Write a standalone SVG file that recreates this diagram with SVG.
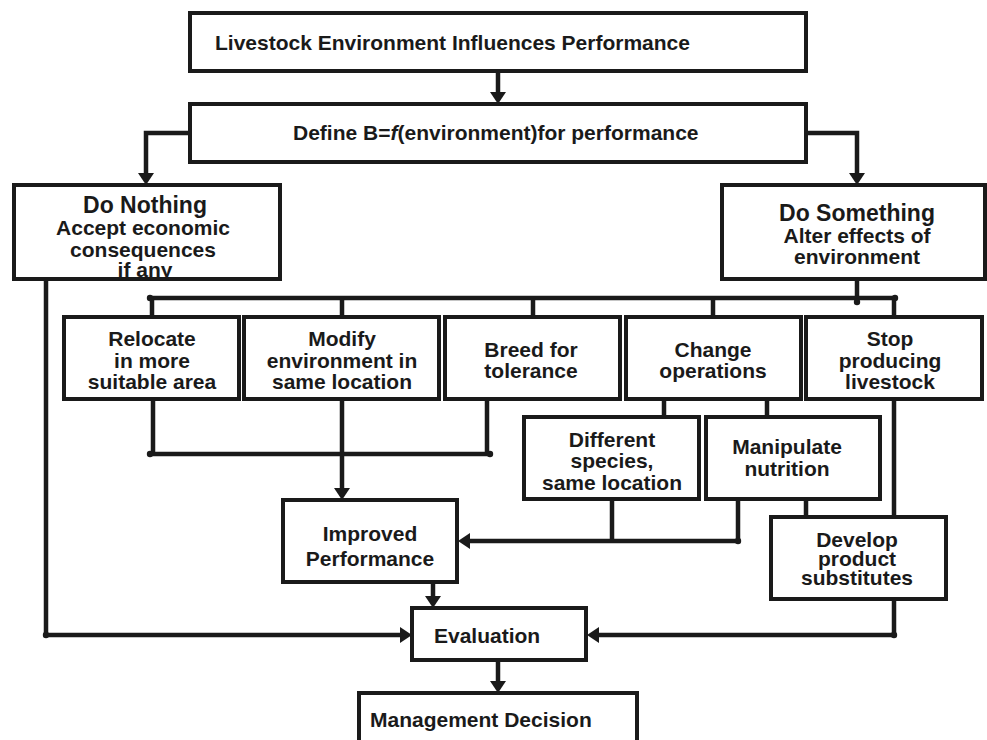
<svg xmlns="http://www.w3.org/2000/svg" width="987" height="740" viewBox="0 0 987 740">
<defs>
<style>
.box{fill:#fff;stroke:#1a1a1a;stroke-width:4}
.ln{fill:none;stroke:#1a1a1a;stroke-width:4.5}
.t{font-family:"Liberation Sans",Arial,sans-serif;font-weight:bold;font-size:21px;fill:#1a1a1a}
.c{text-anchor:middle}
.h{font-size:23px}
.dot{fill:#1a1a1a}
</style>
<marker id="ah" markerUnits="userSpaceOnUse" markerWidth="13" markerHeight="17" refX="2" refY="8" orient="auto">
<path d="M0,0 L12,8 L0,16 z" fill="#1a1a1a"/>
</marker>
</defs>
<rect width="987" height="740" fill="#fff"/>
<g id="connectors">
<path class="ln" d="M498,71 V94" marker-end="url(#ah)"/>
<path class="ln" d="M190,133 H146 V175" marker-end="url(#ah)"/>
<path class="ln" d="M806,133 H857 V175" marker-end="url(#ah)"/>
<path class="ln" d="M857,279 V302"/>
<path class="ln" d="M150,298 H895"/>
<path class="ln" d="M152,298 V317 M342,298 V317 M533,298 V317 M713,298 V317 M894,298 V317"/>
<path class="ln" d="M153,399 V454 M487,399 V454 M150,454 H490"/>
<path class="ln" d="M342,399 V490" marker-end="url(#ah)"/>
<path class="ln" d="M664,399 V417 M767,399 V417"/>
<path class="ln" d="M894,399 V517 M806,499 V517"/>
<path class="ln" d="M612,499 V541"/>
<path class="ln" d="M738,499 V541 H468" marker-end="url(#ah)"/>
<path class="ln" d="M894,599 V635 H597" marker-end="url(#ah)"/>
<path class="ln" d="M46,279 V635 H402" marker-end="url(#ah)"/>
<path class="ln" d="M433,582 V598" marker-end="url(#ah)"/>
<path class="ln" d="M498,660 V683" marker-end="url(#ah)"/>
<circle class="dot" cx="150" cy="298" r="3.2"/>
<circle class="dot" cx="895" cy="298" r="3.2"/>
<circle class="dot" cx="857" cy="302" r="3.2"/>
<circle class="dot" cx="150" cy="454" r="3.2"/>
<circle class="dot" cx="490" cy="454" r="3.2"/>
<circle class="dot" cx="738" cy="541" r="3.2"/>
<circle class="dot" cx="894" cy="635" r="3.2"/>
<circle class="dot" cx="46" cy="635" r="3.2"/>
</g>
<g id="n-title">
<rect class="box" x="190" y="13" width="616" height="58"/>
<text class="t" x="215" y="50">Livestock Environment Influences Performance</text>
</g>
<g id="n-define">
<rect class="box" x="190" y="104" width="616" height="58"/>
<text class="t" x="293" y="140">Define B=<tspan font-style="italic">f</tspan>(environment)for performance</text>
</g>
<g id="n-nothing">
<rect class="box" x="14" y="185" width="266" height="94"/>
<text class="t c h" x="145" y="213">Do Nothing</text>
<text class="t c" x="143" y="235">Accept economic</text>
<text class="t c" x="143" y="257">consequences</text>
<text class="t c" x="145" y="277">if any</text>
</g>
<g id="n-something">
<rect class="box" x="722" y="185" width="263" height="94"/>
<text class="t c h" x="857" y="221">Do Something</text>
<text class="t c" x="857" y="243">Alter effects of</text>
<text class="t c" x="857" y="264">environment</text>
</g>
<g id="n-relocate">
<rect class="box" x="64" y="317" width="175" height="82"/>
<text class="t c" x="152" y="346">Relocate</text>
<text class="t c" x="152" y="368">in more</text>
<text class="t c" x="152" y="389">suitable area</text>
</g>
<g id="n-modify">
<rect class="box" x="244" y="317" width="195" height="82"/>
<text class="t c" x="342" y="346">Modify</text>
<text class="t c" x="342" y="368">environment in</text>
<text class="t c" x="342" y="389">same location</text>
</g>
<g id="n-breed">
<rect class="box" x="445" y="317" width="175" height="82"/>
<text class="t c" x="531" y="357">Breed for</text>
<text class="t c" x="531" y="378">tolerance</text>
</g>
<g id="n-change">
<rect class="box" x="626" y="317" width="175" height="82"/>
<text class="t c" x="713" y="357">Change</text>
<text class="t c" x="713" y="378">operations</text>
</g>
<g id="n-stop">
<rect class="box" x="806" y="317" width="176" height="82"/>
<text class="t c" x="890" y="346">Stop</text>
<text class="t c" x="890" y="368">producing</text>
<text class="t c" x="890" y="389">livestock</text>
</g>
<g id="n-species">
<rect class="box" x="524" y="417" width="175" height="82"/>
<text class="t c" x="612" y="447">Different</text>
<text class="t c" x="612" y="468">species,</text>
<text class="t c" x="612" y="490">same location</text>
</g>
<g id="n-nutrition">
<rect class="box" x="706" y="417" width="174" height="82"/>
<text class="t c" x="787" y="454">Manipulate</text>
<text class="t c" x="787" y="476">nutrition</text>
</g>
<g id="n-develop">
<rect class="box" x="771" y="517" width="175" height="82"/>
<text class="t c" x="857" y="547">Develop</text>
<text class="t c" x="857" y="566">product</text>
<text class="t c" x="857" y="585">substitutes</text>
</g>
<g id="n-improved">
<rect class="box" x="283" y="500" width="174" height="82"/>
<text class="t c" x="370" y="541">Improved</text>
<text class="t c" x="370" y="566">Performance</text>
</g>
<g id="n-evaluation">
<rect class="box" x="412" y="608" width="174" height="52"/>
<text class="t" x="434" y="643">Evaluation</text>
</g>
<g id="n-decision">
<rect class="box" x="359" y="693" width="278" height="60"/>
<text class="t" x="370" y="727">Management Decision</text>
</g>
</svg>
